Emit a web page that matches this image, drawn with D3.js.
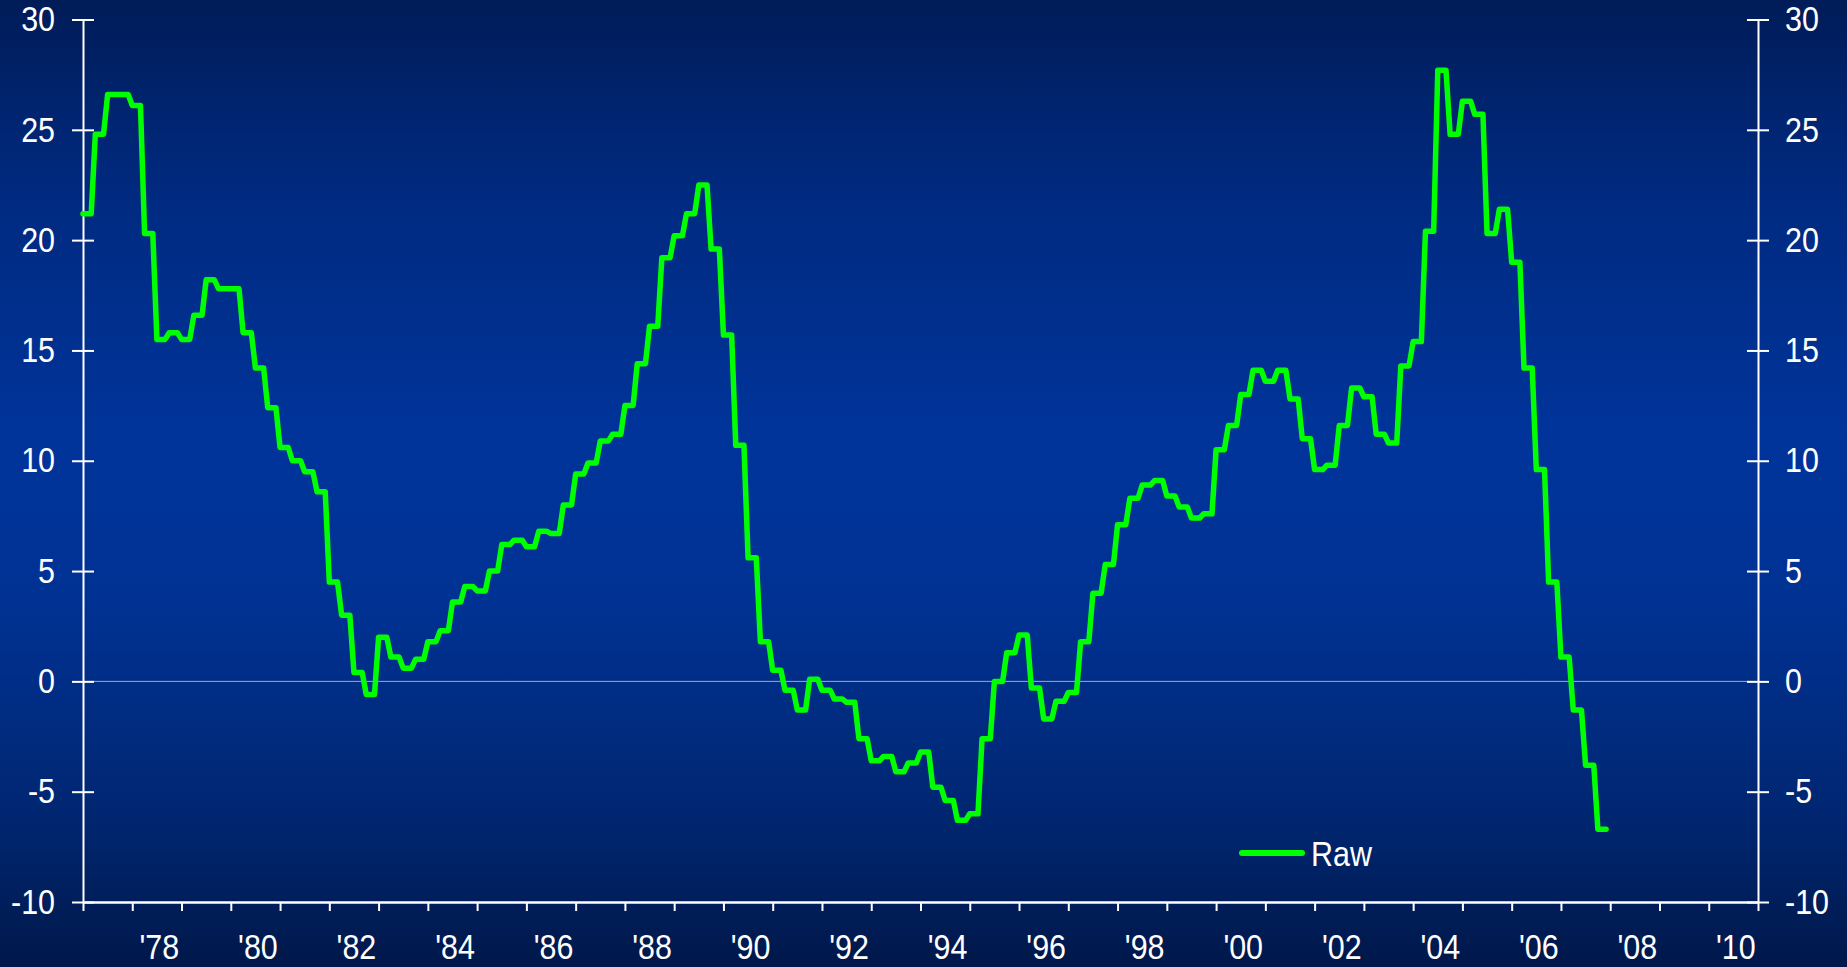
<!DOCTYPE html>
<html>
<head>
<meta charset="utf-8">
<script src="https://cdn.jsdelivr.net/npm/d3@7"></script>
<style>
  html, body { margin: 0; padding: 0; background: #001a50; }
  svg { display: block; }
  text { font-family: "Liberation Sans", Arial, sans-serif; fill: #ffffff; }
</style>
</head>
<body>
<svg id="chart" width="1847" height="967"></svg>
<script>
// ---- data: quarterly values, 1977 Q1 .. 2007 Q4 ----
const startYear = 1977;
const seriesName = "Raw";
const rawValues = [
  21.2, 24.8, 26.6, 26.6,   // 1977
  26.1, 20.3, 15.5, 15.8,   // 1978
  15.5, 16.6, 18.2, 17.8,   // 1979
  17.8, 15.8, 14.2, 12.4,   // 1980
  10.6, 10.0, 9.5, 8.6,     // 1981
  4.5, 3.0, 0.4, -0.6,      // 1982
  2.0, 1.1, 0.6, 1.0,       // 1983
  1.8, 2.3, 3.6, 4.3,       // 1984
  4.1, 5.0, 6.2, 6.4,       // 1985
  6.1, 6.8, 6.7, 8.0,       // 1986
  9.4, 9.9, 10.9, 11.2,     // 1987
  12.5, 14.4, 16.1, 19.2,   // 1988
  20.2, 21.2, 22.5, 19.6,   // 1989
  15.7, 10.7, 5.6, 1.8,     // 1990
  0.5, -0.4, -1.3, 0.1,     // 1991
  -0.4, -0.8, -0.95, -2.6,  // 1992
  -3.6, -3.4, -4.1, -3.7,   // 1993
  -3.2, -4.8, -5.4, -6.3,   // 1994
  -6.0, -2.6, 0.0, 1.3,     // 1995
  2.1, -0.3, -1.7, -0.9,    // 1996
  -0.5, 1.8, 4.0, 5.3,      // 1997
  7.1, 8.3, 8.9, 9.1,       // 1998
  8.4, 7.9, 7.4, 7.6,       // 1999
  10.5, 11.6, 13.0, 14.1,   // 2000
  13.6, 14.1, 12.8, 11.0,   // 2001
  9.6, 9.8, 11.6, 13.3,     // 2002
  12.9, 11.2, 10.8, 14.3,   // 2003
  15.4, 20.4, 27.7, 24.8,   // 2004
  26.3, 25.7, 20.3, 21.4,   // 2005
  19.0, 14.2, 9.6, 4.5,     // 2006
  1.1, -1.3, -3.8, -6.7     // 2007
];
const yTicks = [-10, -5, 0, 5, 10, 15, 20, 25, 30];
const xTickYears = d3.range(1977, 2012);          // year boundaries
const xLabelYears = d3.range(1978, 2011, 2);      // labelled years
const yDomain = [-10, 30];
const xDomain = [1977, 2011];

// monthly points: each quarterly value holds for its three months
const monthly = [];
rawValues.forEach((v, q) => {
  for (let m = 0; m < 3; m++) {
    monthly.push({ t: startYear + (q * 3 + m) / 12, v: v });
  }
});

// ---- layout ----
const W = 1847, H = 967;
const mLeft = 83, mRight = 1758, mTop = 19.5, mBottom = 902;

const svg = d3.select("#chart");

const defs = svg.append("defs");
const grad = defs.append("linearGradient")
  .attr("id", "bg").attr("x1", 0).attr("y1", 0).attr("x2", 0).attr("y2", 1);
[["0%", "#001c58"], ["20%", "#002a80"], ["45%", "#00349a"], ["62%", "#003294"],
 ["85%", "#002670"], ["100%", "#00184a"]].forEach(([o, c]) =>
  grad.append("stop").attr("offset", o).attr("stop-color", c));

svg.append("rect").attr("width", W).attr("height", H).attr("fill", "url(#bg)");

const x = d3.scaleLinear().domain(xDomain).range([mLeft, mRight]);
const y = d3.scaleLinear().domain(yDomain).range([mBottom, mTop]);

// zero line
svg.append("line")
  .attr("x1", x(xDomain[0])).attr("x2", x(xDomain[1]))
  .attr("y1", y(0)).attr("y2", y(0))
  .attr("stroke", "#b4a898").attr("stroke-width", 1);

const fontSize = 35;
const squeeze = 0.87;
const fmt = d => String(d);   // plain hyphen for negatives

// left axis
const gL = svg.append("g").attr("transform", `translate(${mLeft},0)`)
  .call(d3.axisLeft(y).tickValues(yTicks).tickSizeInner(11).tickSizeOuter(0).tickPadding(28)
    .tickFormat(fmt));
gL.select(".domain").attr("stroke", "#fff").attr("stroke-width", 2);
gL.selectAll(".tick line").attr("x1", -11).attr("x2", 11).attr("stroke", "#fff").attr("stroke-width", 2);
gL.selectAll(".tick text").attr("font-size", fontSize).attr("fill", "#fff")
  .attr("transform", `scale(${squeeze},1)`).attr("x", -28 / squeeze);

// right axis
const gR = svg.append("g").attr("transform", `translate(${mRight},0)`)
  .call(d3.axisRight(y).tickValues(yTicks).tickSizeInner(11).tickSizeOuter(0).tickPadding(27)
    .tickFormat(fmt));
gR.select(".domain").attr("stroke", "#fff").attr("stroke-width", 2);
gR.selectAll(".tick line").attr("x1", -11).attr("x2", 11).attr("stroke", "#fff").attr("stroke-width", 2);
gR.selectAll(".tick text").attr("font-size", fontSize).attr("fill", "#fff")
  .attr("transform", `scale(${squeeze},1)`).attr("x", 27 / squeeze);

// bottom axis: year ticks
const gB = svg.append("g").attr("transform", `translate(0,${mBottom})`)
  .call(d3.axisBottom(x).tickValues(xTickYears).tickSizeInner(9).tickSizeOuter(0).tickFormat(""));
gB.select(".domain").attr("stroke", "#fff").attr("stroke-width", 2.5);
gB.selectAll(".tick line").attr("stroke", "#fff").attr("stroke-width", 2);

// bottom axis labels, centred in the year
const gBL = svg.append("g").attr("transform", `translate(2,${mBottom})`)
  .call(d3.axisBottom(x).tickValues(xLabelYears.map(yv => yv + 0.5)).tickSize(0).tickPadding(0)
    .tickFormat(d => "'" + String(Math.floor(d) % 100).padStart(2, "0")));
gBL.select(".domain").remove();
gBL.selectAll(".tick text").attr("font-size", fontSize).attr("fill", "#fff")
  .attr("dy", null).attr("y", 57)
  .attr("transform", `scale(${squeeze},1)`);

// line
const line = d3.line().x(d => x(d.t)).y(d => y(d.v));
svg.append("path").datum(monthly)
  .attr("d", line)
  .attr("fill", "none")
  .attr("stroke", "#00ff00")
  .attr("stroke-width", 5.5)
  .attr("stroke-linejoin", "round")
  .attr("stroke-linecap", "round");

// legend
const lg = svg.append("g").attr("transform", "translate(1242,853)");
lg.append("line").attr("x1", 0).attr("x2", 60).attr("y1", 0).attr("y2", 0)
  .attr("stroke", "#00ff00").attr("stroke-width", 6).attr("stroke-linecap", "round");
lg.append("text").attr("x", 0).attr("y", 0)
  .attr("transform", `translate(69,13) scale(${squeeze},1)`)
  .attr("font-size", fontSize).attr("fill", "#fff").text(seriesName);
</script>
</body>
</html>
